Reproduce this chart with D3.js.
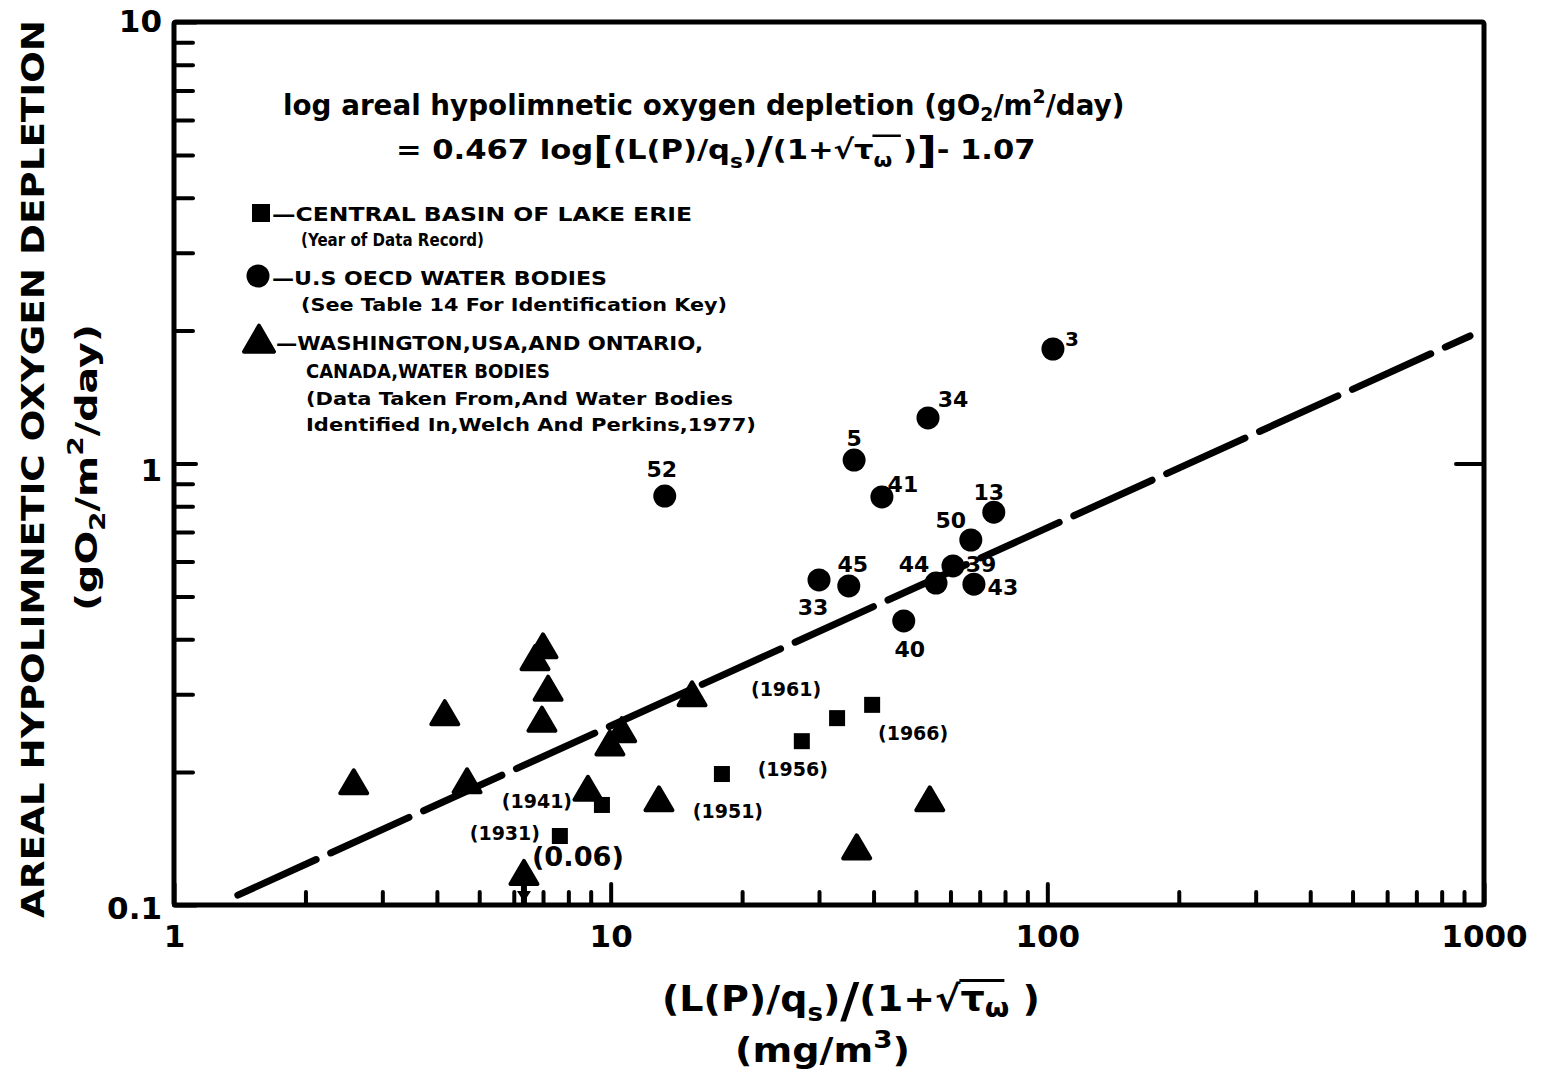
<!DOCTYPE html>
<html><head><meta charset="utf-8">
<script src="https://cdn.jsdelivr.net/npm/d3@7"></script>
<style>
body{margin:0;background:#fff;}
svg text{font-family:"DejaVu Sans",sans-serif;font-weight:bold;fill:#000;}
</style></head>
<body>
<svg id="chart" width="1543" height="1086"></svg>
<script>
// ---- data ----
const xTickValues = [1, 10, 100, 1000];
const xTickLabels = ["1", "10", "100", "1000"];
const yTickValues = [0.1, 1, 10];
const yTickLabels = ["0.1", "1", "10"];

// U.S. OECD water bodies (circles)
const oecdIds = ["3","34","5","41","52","13","50","45","33","44","39","43","40"];
const oecdX   = [103.0, 53.3, 36.1, 41.8, 13.3, 75.4, 66.8, 35.1, 30.0, 55.6, 60.8, 67.9, 46.9];
const oecdY   = [1.817, 1.268, 1.018, 0.840, 0.844, 0.776, 0.671, 0.528, 0.545, 0.536, 0.586, 0.533, 0.440];

// Central basin of Lake Erie (squares)
const erieYears = ["(1931)","(1941)","(1951)","(1956)","(1961)","(1966)"];
const erieX     = [7.65, 9.55, 17.98, 27.4, 33.0, 39.7];
const erieY     = [0.1433, 0.1685, 0.198, 0.235, 0.265, 0.284];

// Washington, USA and Ontario, Canada water bodies (triangles)
const waX = [7.0, 6.71, 7.19, 6.96, 4.17, 15.36, 10.6, 9.96, 4.69, 8.87, 12.9, 2.58, 36.6, 53.8, 6.33];
const waY = [0.384, 0.361, 0.308, 0.262, 0.271, 0.299, 0.248, 0.2315, 0.190, 0.1827, 0.1729, 0.189, 0.1346, 0.1729, 0.1178];
const waOffScaleValue = "(0.06)";   // last triangle: true value 0.06, plotted at bottom with arrow

// regression line as drawn
const lineX = [1.40, 929];
const lineY = [0.1053, 1.945];

// ---- layout ----
const svg = d3.select("#chart");
const x = d3.scaleLog().domain([1, 1000]).range([174, 1484]);
const y = d3.scaleLog().domain([0.1, 10]).range([905, 22]);

const minorX = [];
[1,10,100].forEach(d => { for (let k = 2; k <= 9; k++) minorX.push(d*k); });
const minorY = [];
[0.1,1].forEach(d => { for (let k = 2; k <= 9; k++) minorY.push(+(d*k).toFixed(2)); });

// frame
svg.append("rect").attr("x", x(1)).attr("y", y(10))
  .attr("width", x(1000)-x(1)).attr("height", y(0.1)-y(10))
  .attr("fill","none").attr("stroke","#000").attr("stroke-width",5).attr("rx",2);

const gxm = svg.append("g").attr("transform",`translate(0,${y(0.1)})`)
  .call(d3.axisBottom(x).tickValues(minorX).tickSize(-13).tickFormat(""));
const gx = svg.append("g").attr("transform",`translate(0,${y(0.1)})`)
  .call(d3.axisBottom(x).tickValues(xTickValues).tickSize(-21).tickPadding(19)
    .tickFormat((d,i)=>xTickLabels[i]));
const gym = svg.append("g").attr("transform",`translate(${x(1)},0)`)
  .call(d3.axisLeft(y).tickValues(minorY).tickSize(-19).tickFormat(""));
const gy = svg.append("g").attr("transform",`translate(${x(1)},0)`)
  .call(d3.axisLeft(y).tickValues(yTickValues).tickSize(-22).tickPadding(12)
    .tickFormat((d,i)=>yTickLabels[i]));
const gr = svg.append("g").attr("transform",`translate(${x(1000)},0)`)
  .call(d3.axisRight(y).tickValues([1]).tickSize(-28).tickFormat(""));

[gxm,gx,gym,gy,gr].forEach(g=>{
  g.select(".domain").remove();
  g.selectAll(".tick line").attr("stroke","#000").attr("stroke-width",4).attr("stroke-linecap","round");
  g.selectAll(".tick text").style("font-size","31px").style("font-weight","bold")
   .style("font-family","'DejaVu Sans',sans-serif");
});
gx.selectAll(".tick text").attr("dy","0.74em");
gy.selectAll(".tick text").attr("dy", (d)=> d===10 ? "0.3em" : d===1 ? "0.55em" : "0.45em");

// regression line
const lineData = lineX.map((d,i)=>({x:d, y:lineY[i]}));
svg.append("path").datum(lineData)
  .attr("d", d3.line().x(d=>x(d.x)).y(d=>y(d.y)))
  .attr("fill","none").attr("stroke","#000").attr("stroke-width",7)
  .attr("stroke-linecap","round").attr("stroke-dasharray","86,16");

// triangles
const triPath = (cx, cy, w, h) => `M${cx},${cy-h*0.55}L${cx+w/2},${cy+h*0.45}L${cx-w/2},${cy+h*0.45}Z`;
const waData = waX.map((d,i)=>({x:d, y:waY[i]}));
svg.append("g").selectAll("path").data(waData).join("path")
  .attr("d", d=>triPath(x(d.x), y(d.y), 27, 23))
  .attr("fill","#000").attr("stroke","#000").attr("stroke-width",4).attr("stroke-linejoin","round");

// off-scale arrow and label for last triangle
const off = waData[waData.length-1];
const ax = x(off.x), ay = y(off.y);
svg.append("line").attr("x1",ax).attr("x2",ax).attr("y1",ay+10).attr("y2",y(0.1)-2)
  .attr("stroke","#000").attr("stroke-width",6);
svg.append("path").attr("d",`M${ax-7},${y(0.1)-14}L${ax+7},${y(0.1)-14}L${ax},${y(0.1)-3}Z`).attr("fill","#000");
svg.append("text").attr("x",ax+54).attr("y",ay-8).attr("text-anchor","middle")
  .style("font-size","27px").attr("textLength",92).attr("lengthAdjust","spacingAndGlyphs").text(waOffScaleValue);

// squares
const erieData = erieX.map((d,i)=>({x:d, y:erieY[i], label:erieYears[i]}));
svg.append("g").selectAll("rect").data(erieData).join("rect")
  .attr("x", d=>x(d.x)-8).attr("y", d=>y(d.y)-8).attr("width",16).attr("height",16)
  .attr("fill","#000");
const erieOff = [[-55,4],[-65,3],[6,44],[-9,35],[-51,-22],[41,35]];
svg.append("g").selectAll("text").data(erieData).join("text")
  .attr("x",(d,i)=>x(d.x)+erieOff[i][0]).attr("y",(d,i)=>y(d.y)+erieOff[i][1])
  .attr("text-anchor","middle").style("font-size","19px").text(d=>d.label);

// circles
const oecdData = oecdX.map((d,i)=>({x:d, y:oecdY[i], id:oecdIds[i]}));
svg.append("g").selectAll("circle").data(oecdData).join("circle")
  .attr("cx", d=>x(d.x)).attr("cy", d=>y(d.y)).attr("r",11.5).attr("fill","#000");
const oecdOff = {"3":[19,-3,20],"34":[25,-11,22],"5":[0,-14,22],"41":[21,-5,22],"52":[-3,-19,22],
  "13":[-5,-12,22],"50":[-20,-12,22],"45":[4,-14,22],"33":[-6,35,22],"44":[-22,-11,22],
  "39":[28,6,22],"43":[29,11,22],"40":[6,36,22]};
svg.append("g").selectAll("text").data(oecdData).join("text")
  .attr("x", d=>x(d.x)+oecdOff[d.id][0]).attr("y", d=>y(d.y)+oecdOff[d.id][1])
  .attr("text-anchor","middle").style("font-size", d=>oecdOff[d.id][2]+"px").text(d=>d.id);

// helper: scale a text group horizontally to a target width (keeps tspans consistent)
function fitWidth(g, textSel, x0, targetW) {
  const natural = textSel.node().getComputedTextLength();
  const k = targetW / natural;
  g.attr("transform", `translate(${x0},0) scale(${k},1) translate(${-x0},0)`);
}
// helper: sqrt overline measured from glyphs
function sqrtBar(g, textSel, rootIdx, endIdx, barW) {
  const node = textSel.node();
  const r = node.getExtentOfChar(rootIdx);
  const e = node.getExtentOfChar(endIdx);
  const yTop = r.y + 2;
  g.append("line").attr("x1", r.x + r.width - 1).attr("x2", e.x + e.width * 0.8)
    .attr("y1", yTop).attr("y2", yTop).attr("stroke","#000").attr("stroke-width", barW);
}

// equation
const eq1g = svg.append("g");
const eq1 = eq1g.append("text").attr("x",283).attr("y",115).style("font-size","28px");
eq1.append("tspan").text("log areal hypolimnetic oxygen depletion (gO");
eq1.append("tspan").attr("dy",6).style("font-size","19px").text("2");
eq1.append("tspan").attr("dy",-6).text("/m");
eq1.append("tspan").attr("dy",-12).style("font-size","19px").text("2");
eq1.append("tspan").attr("dy",12).text("/day)");
fitWidth(eq1g, eq1, 283, 842);

const eq2g = svg.append("g");
const eq2 = eq2g.append("text").attr("x",396).attr("y",159).style("font-size","27px");
eq2.append("tspan").text("= 0.467  log");          // 0..11
eq2.append("tspan").style("font-size","38px").attr("dy",4).text("[");   // 12
eq2.append("tspan").attr("dy",-4).text("(L(P)/q");   // 13..19
eq2.append("tspan").attr("dy",9).style("font-size","19px").text("s");  // 20
eq2.append("tspan").attr("dy",-9).text(")");        // 21
eq2.append("tspan").style("font-size","38px").attr("dy",4).text("/");  // 22
eq2.append("tspan").attr("dy",-4).text("(1+√");      // 23..26
eq2.append("tspan").text("τ");                       // 27
eq2.append("tspan").attr("dy",8).style("font-size","19px").text("ω"); // 28
eq2.append("tspan").attr("dy",-8).text(" )");        // 29..30
eq2.append("tspan").style("font-size","38px").attr("dy",4).text("]");
eq2.append("tspan").attr("dy",-4).text("- 1.07");
fitWidth(eq2g, eq2, 396, 640);
sqrtBar(eq2g, eq2, 26, 28, 2.5);

// legend
svg.append("rect").attr("x",252).attr("y",204).attr("width",18).attr("height",18).attr("fill","#000");
svg.append("circle").attr("cx",258).attr("cy",276).attr("r",11.5).attr("fill","#000");
svg.append("path").attr("d",triPath(259,340,30,26)).attr("fill","#000").attr("stroke","#000").attr("stroke-width",4).attr("stroke-linejoin","round");

const legendLines = [
  ["—CENTRAL BASIN OF LAKE ERIE", 272, 221, 20],
  ["(Year of Data Record)", 301, 246, 17],
  ["—U.S  OECD WATER BODIES", 272, 285, 20],
  ["(See Table 14 For Identification Key)", 301, 311, 17],
  ["—WASHINGTON,USA,AND ONTARIO,", 276, 350, 20],
  ["CANADA,WATER BODIES", 306, 378, 20],
  ["(Data Taken From,And Water Bodies", 306, 405, 17],
  [" Identified In,Welch And Perkins,1977)", 306, 431, 17]
];
const legendW = [420, 183, 335, 426, 427, 244, 427, 450];
svg.append("g").selectAll("text").data(legendLines).join("text")
  .attr("x",d=>d[1]).attr("y",d=>d[2]).style("font-size",d=>d[3]+"px")
  .attr("textLength",(d,i)=>legendW[i]).attr("lengthAdjust","spacingAndGlyphs").text(d=>d[0]);

// axis titles
svg.append("text").attr("transform","translate(44,469) rotate(-90)").attr("text-anchor","middle")
  .style("font-size","32px").attr("textLength",898).attr("lengthAdjust","spacingAndGlyphs")
  .text("AREAL HYPOLIMNETIC OXYGEN DEPLETION");
const yt2o = svg.append("g").attr("transform","translate(97,468) rotate(-90)");
const yt2g = yt2o.append("g");
const yt2 = yt2g.append("text").attr("x",-143).attr("y",0).style("font-size","31px");
yt2.append("tspan").text("(gO");
yt2.append("tspan").attr("dy",8).style("font-size","22px").text("2");
yt2.append("tspan").attr("dy",-8).text("/m");
yt2.append("tspan").attr("dy",-14).style("font-size","22px").text("2");
yt2.append("tspan").attr("dy",14).text("/day)");
fitWidth(yt2g, yt2, -143, 287);

const xtg = svg.append("g");
const xt = xtg.append("text").attr("x",662).attr("y",1011).style("font-size","35px");
xt.append("tspan").text("(L(P)/q");        // 0..6
xt.append("tspan").attr("dy",10).style("font-size","24px").text("s"); // 7
xt.append("tspan").attr("dy",-10).text(")"); // 8
xt.append("tspan").style("font-size","48px").attr("dy",6).text("/"); // 9
xt.append("tspan").attr("dy",-6).text("(1+√"); // 10..13
xt.append("tspan").text("τ");                 // 14
xt.append("tspan").attr("dy",6).style("font-size","26px").text("ω"); // 15
xt.append("tspan").attr("dy",-6).text(" )");
fitWidth(xtg, xt, 662, 378);
sqrtBar(xtg, xt, 13, 15, 3);

const xt2g = svg.append("g");
const xt2 = xt2g.append("text").attr("x",735).attr("y",1062).style("font-size","33px");
xt2.append("tspan").text("(mg/m");
xt2.append("tspan").attr("dy",-14).style("font-size","24px").text("3");
xt2.append("tspan").attr("dy",14).text(")");
fitWidth(xt2g, xt2, 735, 175);
</script>
</body></html>
